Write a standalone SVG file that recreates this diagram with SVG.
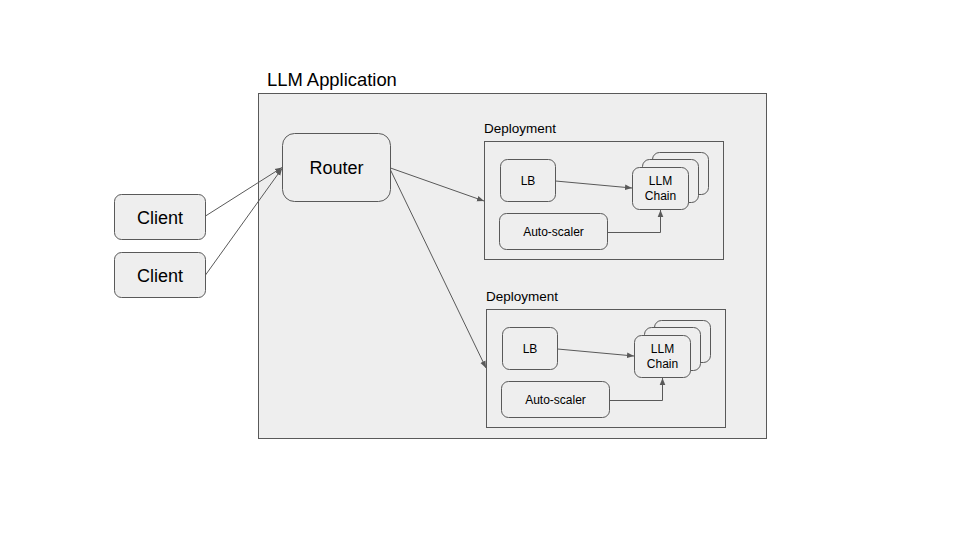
<svg xmlns="http://www.w3.org/2000/svg" width="960" height="540" viewBox="0 0 960 540">
<defs>
<style>
.box{fill:#eeeeee;stroke:#595959;stroke-width:1}
.plain{fill:#eeeeee;stroke:#595959;stroke-width:1}
.t{font-family:"Liberation Sans",Arial,sans-serif;fill:#000000;text-anchor:middle}
.lbl{font-family:"Liberation Sans",Arial,sans-serif;fill:#000000}
.c{fill:none;stroke:#595959;stroke-width:1}
</style>
<marker id="ah" viewBox="0 0 10 10" refX="10" refY="5" markerWidth="7" markerHeight="7" markerUnits="userSpaceOnUse" orient="auto">
<path d="M0,1 L10,5 L0,9 Z" fill="#595959"/>
</marker>
<g id="deploy">
<rect class="plain" x="484.5" y="141.5" width="239" height="118"/>
<text class="lbl" x="484" y="133" font-size="13.5">Deployment</text>
<rect class="box" x="500.5" y="159.5" width="55" height="42" rx="7"/>
<text class="t" x="528" y="185" font-size="12">LB</text>
<rect class="box" x="499.5" y="213.5" width="108" height="36" rx="7"/>
<text class="t" x="553.5" y="236" font-size="12">Auto-scaler</text>
<rect class="box" x="652.5" y="152.5" width="56" height="42" rx="7"/>
<rect class="box" x="642.5" y="159.5" width="56" height="43" rx="7"/>
<rect class="box" x="632.5" y="167.5" width="56" height="42" rx="7"/>
<text class="t" x="660.5" y="185" font-size="12">LLM</text>
<text class="t" x="660.5" y="200" font-size="12">Chain</text>
<path class="c" d="M555.5,181 L632,188" marker-end="url(#ah)"/>
<path class="c" d="M607.5,232.5 L660.5,232.5 L660.5,210" marker-end="url(#ah)"/>
</g>
</defs>
<rect width="960" height="540" fill="#ffffff"/>
<g id="app">
<rect class="plain" x="258.5" y="93.5" width="508" height="345"/>
<text class="lbl" x="267" y="86" font-size="18.4">LLM Application</text>
</g>
<g id="router">
<rect class="box" x="282.5" y="133.5" width="108" height="68" rx="12"/>
<text class="t" x="336.5" y="174" font-size="18">Router</text>
</g>
<g id="client1">
<rect class="box" x="114.5" y="194.5" width="91" height="45" rx="7"/>
<text class="t" x="160" y="223.5" font-size="18">Client</text>
</g>
<g id="client2">
<rect class="box" x="114.5" y="252.5" width="91" height="45" rx="7"/>
<text class="t" x="160" y="281.5" font-size="18">Client</text>
</g>
<g id="deployment1">
<use href="#deploy"/>
</g>
<g id="deployment2">
<use href="#deploy" transform="translate(2,168)"/>
</g>
<g id="connectors">
<path class="c" d="M205.5,216 L282,167.5" marker-end="url(#ah)"/>
<path class="c" d="M205.5,275 L282,168.5" marker-end="url(#ah)"/>
<path class="c" d="M390.5,168 L484,201" marker-end="url(#ah)"/>
<path class="c" d="M390.5,170 L486,368" marker-end="url(#ah)"/>
</g>
</svg>
